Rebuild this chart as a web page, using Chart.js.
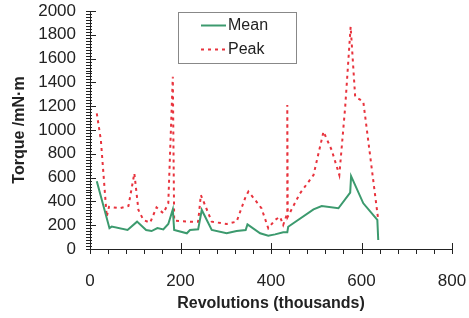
<!DOCTYPE html>
<html>
<head>
    <title>Torque vs revolutions</title>
    <script src="https://cdn.jsdelivr.net/npm/chart.js"></script>
    <style>
        body { margin: 0; background: #fff; }
        #wrap { width: 469px; height: 318px; }
    </style>
</head>
<body>
    <div id="wrap"><canvas id="myChart"></canvas></div>
    <script>
        // values (revolutions in thousands, torque in mN·m)
        const meanX = [15, 43, 48, 83, 104, 124, 136, 149, 162, 173, 183, 186, 214, 221, 239, 247, 269, 302, 324, 344, 348, 376, 394, 409, 427, 436, 438, 494, 512, 549, 575, 577, 604, 635, 637];
        const meanY = [570, 175, 188, 160, 230, 160, 151, 176, 165, 210, 333, 160, 132, 160, 165, 328, 160, 132, 151, 160, 207, 132, 112, 123, 140, 140, 187, 333, 361, 342, 473, 613, 384, 244, 76];

        const peakX = [15, 24, 37, 42, 66, 85, 98, 107, 118, 133, 147, 162, 173, 183, 186, 221, 239, 245, 254, 269, 302, 324, 344, 350, 365, 379, 394, 409, 420, 427, 436, 436, 437, 464, 494, 516, 534, 551, 564, 576, 586, 604, 637];
        const peakY = [1140, 916, 271, 355, 342, 361, 636, 328, 244, 221, 350, 300, 384, 1448, 238, 230, 230, 454, 370, 230, 210, 230, 440, 482, 412, 342, 174, 244, 271, 202, 300, 1210, 271, 467, 622, 986, 832, 622, 1196, 1868, 1280, 1238, 244];

        const seriesNames = ['Mean', 'Peak'];
        const xMajor = [0, 200, 400, 600, 800];
        const yMajor = [0, 200, 400, 600, 800, 1000, 1200, 1400, 1600, 1800, 2000];

        const green = '#3c9a6e';
        const red = '#e8333d';
        const ink = '#222';
        const fontName = '"Liberation Sans", Arial, sans-serif';

        const toPoints = (xs, ys) => xs.map((x, i) => ({x: x, y: ys[i]}));

        // tick marks that cross the axis lines, like the original
        const tickMarks = {
            id: 'tickMarks',
            afterDraw(chart) {
                const c = chart.ctx;
                const xs = chart.scales.x;
                const ys = chart.scales.y;
                const ax = chart.chartArea.left;
                const ay = chart.chartArea.bottom;
                c.save();
                c.strokeStyle = ink;
                c.lineWidth = 1;
                c.beginPath();
                for (let v = 0; v <= 2000; v += 25) {
                    const py = Math.round(ys.getPixelForValue(v)) + 0.5;
                    const major = v % 200 === 0;
                    c.moveTo(ax - 4, py);
                    c.lineTo(ax + (major ? 6 : 2), py);
                }
                for (let v = 0; v <= 800; v += 40) {
                    const px = Math.round(xs.getPixelForValue(v)) + 0.5;
                    const major = v % 200 === 0;
                    c.moveTo(px, ay + 5);
                    c.lineTo(px, ay - (major ? 6 : 0));
                }
                c.stroke();

                // legend box
                const lx = 178, ly = 12, lw = 118, lh = 51;
                c.fillStyle = '#fff';
                c.fillRect(lx, ly, lw, lh);
                c.strokeStyle = '#888';
                c.strokeRect(lx + 0.5, ly + 0.5, lw, lh);
                c.font = '16px ' + fontName;
                c.fillStyle = ink;
                c.textBaseline = 'middle';
                c.textAlign = 'left';
                c.lineWidth = 2;
                c.strokeStyle = green;
                c.beginPath();
                c.moveTo(201, 25.5);
                c.lineTo(226, 25.5);
                c.stroke();
                c.fillText(seriesNames[0], 228, 26);
                c.strokeStyle = red;
                c.setLineDash([3, 4]);
                c.beginPath();
                c.moveTo(201, 49.5);
                c.lineTo(226, 49.5);
                c.stroke();
                c.setLineDash([]);
                c.fillText(seriesNames[1], 228, 50);
                c.restore();
            }
        };

        new Chart(document.getElementById('myChart'), {
            type: 'line',
            data: {
                datasets: [
                    {
                        label: seriesNames[0],
                        data: toPoints(meanX, meanY),
                        borderColor: green,
                        borderWidth: 2,
                        pointRadius: 0,
                        tension: 0
                    },
                    {
                        label: seriesNames[1],
                        data: toPoints(peakX, peakY),
                        borderColor: red,
                        borderWidth: 2,
                        borderDash: [3, 4],
                        pointRadius: 0,
                        tension: 0
                    }
                ]
            },
            options: {
                responsive: true,
                maintainAspectRatio: false,
                animation: false,
                layout: {padding: {top: 11, right: 17, left: 0, bottom: 0}},
                plugins: {
                    legend: {display: false},
                    tooltip: {enabled: false}
                },
                scales: {
                    x: {
                        type: 'linear',
                        min: 0,
                        max: 800,
                        afterBuildTicks: s => { s.ticks = xMajor.map(v => ({value: v})); },
                        afterFit: s => { s.height = 69; s.paddingLeft = 0; s.paddingRight = 0; },
                        grid: {display: true, drawOnChartArea: false, drawTicks: false},
                        border: {display: true, color: ink, width: 1},
                        ticks: {color: ink, font: {family: fontName, size: 17}, padding: 22, maxRotation: 0, autoSkip: false, callback: v => String(v)},
                        title: {
                            display: true,
                            text: 'Revolutions (thousands)',
                            color: ink,
                            font: {family: fontName, size: 16, weight: 'bold'},
                            padding: {top: 0, bottom: 5}
                        }
                    },
                    y: {
                        min: 0,
                        max: 2000,
                        afterBuildTicks: s => { s.ticks = yMajor.map(v => ({value: v})); },
                        afterFit: s => { s.width = 90; s.paddingTop = 0; s.paddingBottom = 0; },
                        grid: {display: true, drawOnChartArea: false, drawTicks: false},
                        border: {display: true, color: ink, width: 1},
                        ticks: {color: ink, font: {family: fontName, size: 17}, padding: 14, autoSkip: false, callback: v => String(v)},
                        title: {
                            display: true,
                            text: 'Torque /mN·m',
                            color: ink,
                            font: {family: fontName, size: 16, weight: 'bold'},
                            padding: {top: 10, bottom: 0}
                        }
                    }
                }
            },
            plugins: [tickMarks]
        });
    </script>
</body>
</html>
